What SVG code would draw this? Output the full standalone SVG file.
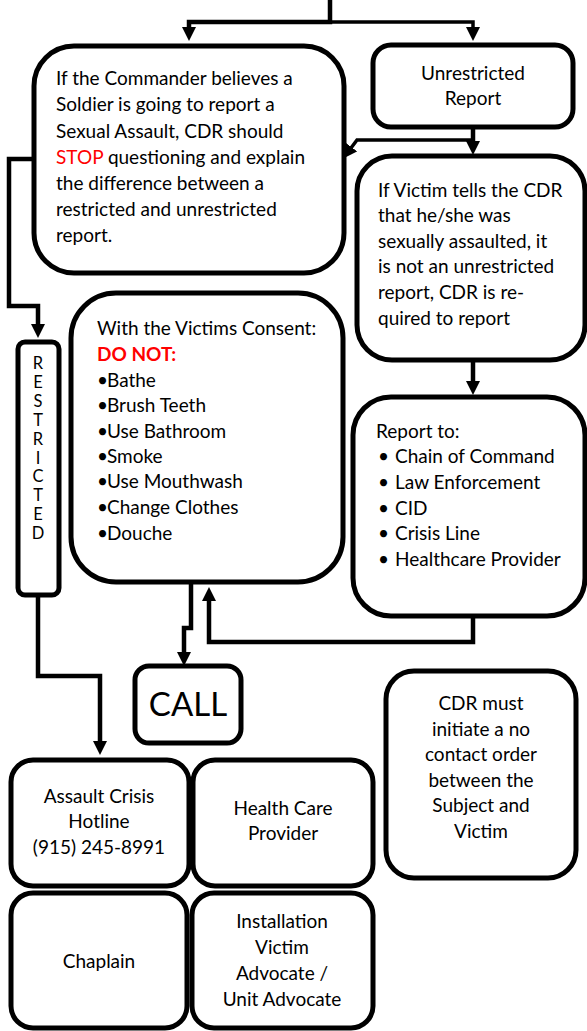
<svg xmlns="http://www.w3.org/2000/svg" width="587" height="1031" viewBox="0 0 587 1031">
<defs>
<style>
.box{fill:#fff;stroke:#000;stroke-width:5}
.ln{fill:none;stroke:#000;stroke-width:4.5;stroke-linejoin:miter}
text{font-family:Lato,"Open Sans","Liberation Sans",sans-serif;font-size:19px;fill:#000}
.c{text-anchor:middle}
.red{fill:#f00}
.call{font-size:33px}
.rs{font-size:16.5px;text-anchor:middle}
</style>
<marker id="arr" viewBox="0 0 14 14" refX="1" refY="7" markerWidth="14" markerHeight="14" markerUnits="userSpaceOnUse" orient="auto">
<path d="M0,0 L14,7 L0,14 z" fill="#000"/>
</marker>
</defs>
<rect width="587" height="1031" fill="#fff"/>
<g id="connectors">
<path class="ln" d="M330,0 V22 H189 V28" marker-end="url(#arr)"/>
<path class="ln" d="M330,22 H473 V28" style="stroke-width:3.5" marker-end="url(#arr)"/>
<path class="ln" d="M473,127 V142" marker-end="url(#arr)"/>
<path class="ln" d="M473,140 H357 L351,148" style="stroke-width:3.5" marker-end="url(#arr)"/>
<path class="ln" d="M35,159 H9 V306 H38 V325" marker-end="url(#arr)"/>
<path class="ln" d="M38,595 V676 H100 V742" marker-end="url(#arr)"/>
<path class="ln" d="M473,360 V382" marker-end="url(#arr)"/>
<path class="ln" d="M473,616 V642 H209 V600" marker-end="url(#arr)"/>
<path class="ln" d="M191,582 V628 H184 V653" marker-end="url(#arr)"/>
</g>
<g id="commander">
<rect class="box" x="34" y="46" width="310" height="227" rx="40"/>
<text x="56" y="85">If the Commander believes a</text>
<text x="56" y="111">Soldier is going to report a</text>
<text x="56" y="138">Sexual Assault, CDR should</text>
<text x="56" y="164"><tspan class="red">STOP</tspan> questioning and explain</text>
<text x="56" y="190">the difference between a</text>
<text x="56" y="216">restricted and unrestricted</text>
<text x="56" y="242">report.</text>
</g>
<g id="unrestricted">
<rect class="box" x="373" y="45" width="200" height="82" rx="18"/>
<text class="c" x="473" y="80">Unrestricted</text>
<text class="c" x="473" y="105">Report</text>
</g>
<g id="victim-tells">
<rect class="box" x="357" y="156" width="228" height="204" rx="35"/>
<text x="378" y="197">If Victim tells the CDR</text>
<text x="378" y="222">that he/she was</text>
<text x="378" y="248">sexually assaulted, it</text>
<text x="378" y="273">is not an unrestricted</text>
<text x="378" y="299">report, CDR is re-</text>
<text x="378" y="325">quired to report</text>
</g>
<g id="report-to">
<rect class="box" x="353" y="397" width="232" height="219" rx="38"/>
<text x="376" y="438">Report to:</text>
<text x="378" y="463">•</text><text x="395" y="463">Chain of Command</text>
<text x="378" y="489">•</text><text x="395" y="489">Law Enforcement</text>
<text x="378" y="515">•</text><text x="395" y="515">CID</text>
<text x="378" y="540">•</text><text x="395" y="540">Crisis Line</text>
<text x="378" y="566">•</text><text x="395" y="566">Healthcare Provider</text>
</g>
<g id="consent">
<rect class="box" x="71" y="293" width="272" height="289" rx="45"/>
<text x="97" y="335">With the Victims Consent:</text>
<text x="97" y="361" class="red" font-weight="bold">DO NOT:</text>
<text x="97" y="387">•</text><text x="107" y="387">Bathe</text>
<text x="97" y="412">•</text><text x="107" y="412">Brush Teeth</text>
<text x="97" y="438">•</text><text x="107" y="438">Use Bathroom</text>
<text x="97" y="463">•</text><text x="107" y="463">Smoke</text>
<text x="97" y="488">•</text><text x="107" y="488">Use Mouthwash</text>
<text x="97" y="514">•</text><text x="107" y="514">Change Clothes</text>
<text x="97" y="540">•</text><text x="107" y="540">Douche</text>
</g>
<g id="restricted">
<rect class="box" x="18" y="342" width="41" height="253" rx="7"/>
<text class="rs" x="38" y="369"><tspan x="38">R</tspan><tspan x="38" dy="18.9">E</tspan><tspan x="38" dy="18.9">S</tspan><tspan x="38" dy="18.9">T</tspan><tspan x="38" dy="18.9">R</tspan><tspan x="38" dy="18.9">I</tspan><tspan x="38" dy="18.9">C</tspan><tspan x="38" dy="18.9">T</tspan><tspan x="38" dy="18.9">E</tspan><tspan x="38" dy="18.9">D</tspan></text>
</g>
<g id="call">
<rect class="box" x="135" y="666" width="106" height="77" rx="14"/>
<text class="c call" x="188" y="716">CALL</text>
</g>
<g id="no-contact">
<rect class="box" x="386" y="671" width="190" height="207" rx="28"/>
<text class="c" x="481" y="710">CDR must</text>
<text class="c" x="481" y="736">initiate a no</text>
<text class="c" x="481" y="761">contact order</text>
<text class="c" x="481" y="787">between the</text>
<text class="c" x="481" y="812">Subject and</text>
<text class="c" x="481" y="838">Victim</text>
</g>
<g id="hotline">
<rect class="box" x="11" y="760" width="178" height="126" rx="22"/>
<text class="c" x="99" y="803">Assault Crisis</text>
<text class="c" x="99" y="828">Hotline</text>
<text class="c" x="99" y="854">(915) 245-8991</text>
</g>
<g id="health">
<rect class="box" x="193" y="760" width="180" height="126" rx="22"/>
<text class="c" x="283" y="815">Health Care</text>
<text class="c" x="283" y="840">Provider</text>
</g>
<g id="chaplain">
<rect class="box" x="11" y="893" width="176" height="135" rx="22"/>
<text class="c" x="99" y="968">Chaplain</text>
</g>
<g id="advocate">
<rect class="box" x="192" y="893" width="181" height="135" rx="22"/>
<text class="c" x="282" y="928">Installation</text>
<text class="c" x="282" y="954">Victim</text>
<text class="c" x="282" y="980">Advocate /</text>
<text class="c" x="282" y="1006">Unit Advocate</text>
</g>
</svg>
